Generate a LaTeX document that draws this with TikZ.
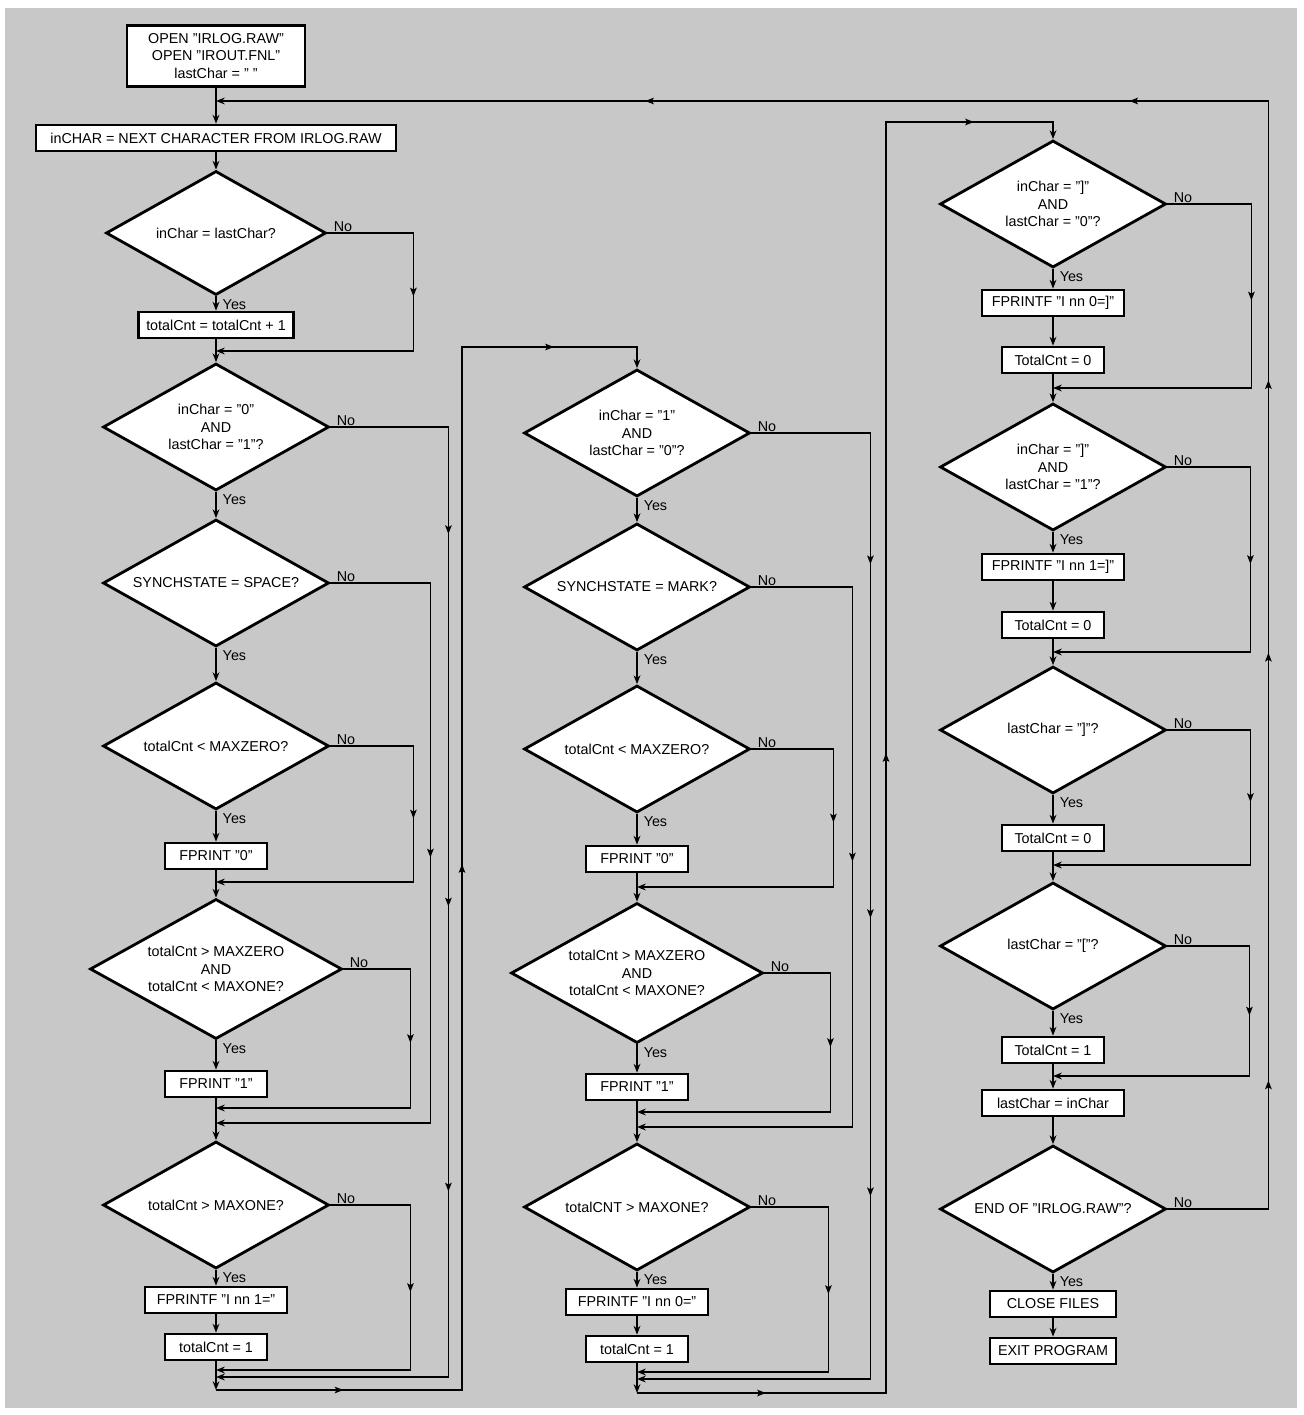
\documentclass[tikz,border=0pt]{standalone}
\usepackage{fontspec}
\setmainfont{Liberation Sans}
\usepackage{tikz}
\usetikzlibrary{shapes.geometric, arrows.meta, positioning}
\definecolor{paper}{RGB}{200,200,200}
\newcommand{\chartfont}{\fontsize{10.2}{12.4}\selectfont}

\begin{document}
\begin{tikzpicture}[x=0.25mm, y=-0.25mm,
    box/.style={draw, line width=0.7mm, fill=white, minimum width=25.5mm, minimum height=6.5mm, inner sep=1pt, font=\chartfont},
    widebox/.style={box, minimum width=35.5mm},
    decision/.style={diamond, aspect=1.8, draw, line width=0.7mm, fill=white, minimum width=56.5mm, minimum height=31.75mm, inner sep=0pt, align=center, font=\chartfont},
    line/.style={line width=0.35mm},
    flow/.style={line, -{Stealth[length=2.2mm, width=1.7mm]}},
    yes/.style={pos=0, anchor=north west, inner sep=0.6pt, xshift=1.3mm, yshift=-0.3mm, font=\chartfont},
    no/.style={pos=0, anchor=south west, inner sep=0.6pt, xshift=1.2mm, font=\chartfont},
    along/.style={pos=#1, sloped, allow upside down},
    tipmark/.pic={\fill[arrows=-] (1.1mm,0) -- (-1.1mm,0.85mm) -- (-0.6mm,0) -- (-1.1mm,-0.85mm) -- cycle;}
  ]
  \useasboundingbox (0,0) rectangle (1303,1415);
  \fill[white] (0,0) rectangle (1303,1415);
  \fill[paper] (5,8) rectangle (1297,1408);

  % first column
  \node[box, minimum width=44.5mm, minimum height=15.25mm, align=center] (start) at (216,56) {OPEN "IRLOG.RAW"\\OPEN "IROUT.FNL"\\lastChar = " "};
  \node[box, minimum width=90mm] (getch) at (216,138) {inCHAR = NEXT CHARACTER FROM IRLOG.RAW};
  \node[decision, minimum width=55mm, minimum height=31mm] (same) at (216,233) {inChar = lastChar?};
  \node[box, minimum width=38.75mm] (incr) at (216,325) {totalCnt = totalCnt + 1};
  \node[decision] (zoA) at (216,427) {inChar = "0"\\AND\\lastChar = "1"?};
  \node[decision] (spaceA) at (216,583) {SYNCHSTATE = SPACE?};
  \node[decision] (lzA) at (216,746) {totalCnt < MAXZERO?};
  \node[box] (pzA) at (216,856) {FPRINT "0"};
  \node[decision, minimum width=63mm, minimum height=35mm] (midA) at (216,969) {totalCnt > MAXZERO\\AND\\totalCnt < MAXONE?};
  \node[box] (poA) at (216,1084) {FPRINT "1"};
  \node[decision] (hiA) at (216,1205) {totalCnt > MAXONE?};
  \node[widebox] (pfA) at (216,1300) {FPRINTF "I nn 1="};
  \node[box] (oneA) at (216,1347) {totalCnt = 1};

  % second column
  \node[decision] (zoB) at (637,433) {inChar = "1"\\AND\\lastChar = "0"?};
  \node[decision] (markB) at (637,587) {SYNCHSTATE = MARK?};
  \node[decision] (lzB) at (637,749) {totalCnt < MAXZERO?};
  \node[box] (pzB) at (637,859) {FPRINT "0"};
  \node[decision, minimum width=63mm, minimum height=35mm] (midB) at (637,973) {totalCnt > MAXZERO\\AND\\totalCnt < MAXONE?};
  \node[box] (poB) at (637,1087) {FPRINT "1"};
  \node[decision] (hiB) at (637,1207) {totalCNT > MAXONE?};
  \node[widebox] (pfB) at (637,1302) {FPRINTF "I nn 0="};
  \node[box] (oneB) at (637,1349) {totalCnt = 1};

  % third column
  \node[decision] (brZ) at (1053,204) {inChar = "]"\\AND\\lastChar = "0"?};
  \node[widebox] (pbZ) at (1053,303) {FPRINTF "I nn 0=]"};
  \node[box] (tzZ) at (1053,360) {TotalCnt = 0};
  \node[decision] (brO) at (1053,467) {inChar = "]"\\AND\\lastChar = "1"?};
  \node[widebox] (pbO) at (1053,567) {FPRINTF "I nn 1=]"};
  \node[box] (tzO) at (1053,625) {TotalCnt = 0};
  \node[decision] (lastR) at (1053,730) {lastChar = "]"?};
  \node[box] (tzR) at (1053,838) {TotalCnt = 0};
  \node[decision] (lastL) at (1053,946) {lastChar = "["?};
  \node[box] (toL) at (1053,1050) {TotalCnt = 1};
  \node[widebox] (setl) at (1053,1103) {lastChar = inChar};
  \node[decision] (eof) at (1053,1209) {END OF "IRLOG.RAW"?};
  \node[box, minimum width=31.5mm] (close) at (1053,1304) {CLOSE FILES};
  \node[box, minimum width=31.5mm] (exit) at (1053,1351) {EXIT PROGRAM};

  % join points
  \coordinate (t1) at (216,101);
  \coordinate (m1) at (216,351);
  \coordinate (m2) at (216,882);
  \coordinate (m3a) at (216,1108);
  \coordinate (m3b) at (216,1123);
  \coordinate (m4a) at (216,1370);
  \coordinate (m4b) at (216,1377);
  \coordinate (b1) at (216,1390);
  \coordinate (t2) at (637,347);
  \coordinate (q2) at (637,887);
  \coordinate (q3a) at (637,1112);
  \coordinate (q3b) at (637,1127);
  \coordinate (q4a) at (637,1372);
  \coordinate (q4b) at (637,1379);
  \coordinate (b2) at (637,1393);
  \coordinate (t3) at (1053,122);
  \coordinate (k1) at (1053,388);
  \coordinate (k2) at (1053,652);
  \coordinate (k3) at (1053,865);
  \coordinate (k4) at (1053,1076);

  \draw[flow] (start) -- (getch);
  \draw[flow] (getch) -- (same);
  \draw[flow] (same) -- node[yes] (y1) {Yes} (incr);
  \draw[flow] (same.east) -- node[no] (n1) {No} ++(86,0) |- pic[along=.25]{tipmark} (m1);
  \draw[flow] (incr) -- (zoA);
  \draw[flow] (zoA) -- node[yes] (y2) {Yes} (spaceA);
  \draw[flow] (zoA.east) -- node[no] (n2) {No} ++(118,0) |- pic[along=.054]{tipmark} pic[along=.25]{tipmark} pic[along=.4]{tipmark} (m4b);
  \draw[flow] (spaceA) -- node[yes] (y3) {Yes} (lzA);
  \draw[flow] (spaceA.east) -- node[no] (n3) {No} ++(100,0) |- pic[along=.25]{tipmark} (m3b);
  \draw[flow] (lzA) -- node[yes] (y4) {Yes} (pzA);
  \draw[flow] (lzA.east) -- node[no] (n4) {No} ++(83,0) |- pic[along=.25]{tipmark} (m2);
  \draw[flow] (pzA) -- (midA);
  \draw[flow] (midA) -- node[yes] (y5) {Yes} (poA);
  \draw[flow] (midA.east) -- node[no] (n5) {No} ++(67,0) |- pic[along=.25]{tipmark} (m3a);
  \draw[flow] (poA) -- (hiA);
  \draw[flow] (hiA) -- node[yes] (y6) {Yes} (pfA);
  \draw[flow] (hiA.east) -- node[no] (n6) {No} ++(80,0) |- pic[along=.25]{tipmark} (m4a);
  \draw[flow] (pfA) -- (oneA);
  \draw[flow] (oneA) -- (b1);
  \draw[flow] (b1) -- pic[along=.5]{tipmark} ++(246,0) |- pic[along=.25]{tipmark} pic[along=.75]{tipmark} (t2) -- (zoB);

  \draw[flow] (zoB) -- node[yes] (y7) {Yes} (markB);
  \draw[flow] (zoB.east) -- node[no] (n7) {No} ++(119,0) |- pic[along=.067]{tipmark} pic[along=.254]{tipmark} pic[along=.401]{tipmark} (q4b);
  \draw[flow] (markB) -- node[yes] (y8) {Yes} (lzB);
  \draw[flow] (markB.east) -- node[no] (n8) {No} ++(101,0) |- pic[along=.25]{tipmark} (q3b);
  \draw[flow] (lzB) -- node[yes] (y9) {Yes} (pzB);
  \draw[flow] (lzB.east) -- node[no] (n9) {No} ++(82,0) |- pic[along=.25]{tipmark} (q2);
  \draw[flow] (pzB) -- (midB);
  \draw[flow] (midB) -- node[yes] (y10) {Yes} (poB);
  \draw[flow] (midB.east) -- node[no] (n10) {No} ++(66,0) |- pic[along=.25]{tipmark} (q3a);
  \draw[flow] (poB) -- (hiB);
  \draw[flow] (hiB) -- node[yes] (y11) {Yes} (pfB);
  \draw[flow] (hiB.east) -- node[no] (n11) {No} ++(77,0) |- pic[along=.25]{tipmark} (q4a);
  \draw[flow] (pfB) -- (oneB);
  \draw[flow] (oneB) -- (b2);
  \draw[flow] (b2) -- pic[along=.5]{tipmark} ++(249,0) |- pic[along=.25]{tipmark} pic[along=.75]{tipmark} (t3) -- (brZ);

  \draw[flow] (brZ) -- node[yes] (y12) {Yes} (pbZ);
  \draw[flow] (brZ.east) -- node[no] (n12) {No} ++(84,0) |- pic[along=.25]{tipmark} (k1);
  \draw[flow] (pbZ) -- (tzZ);
  \draw[flow] (tzZ) -- (brO);
  \draw[flow] (brO) -- node[yes] (y13) {Yes} (pbO);
  \draw[flow] (brO.east) -- node[no] (n13) {No} ++(83,0) |- pic[along=.25]{tipmark} (k2);
  \draw[flow] (pbO) -- (tzO);
  \draw[flow] (tzO) -- (lastR);
  \draw[flow] (lastR) -- node[yes] (y14) {Yes} (tzR);
  \draw[flow] (lastR.east) -- node[no] (n14) {No} ++(83,0) |- pic[along=.25]{tipmark} (k3);
  \draw[flow] (tzR) -- (lastL);
  \draw[flow] (lastL) -- node[yes] (y15) {Yes} (toL);
  \draw[flow] (lastL.east) -- node[no] (n15) {No} ++(82,0) |- pic[along=.25]{tipmark} (k4);
  \draw[flow] (toL) -- (setl);
  \draw[flow] (setl) -- (eof);
  \draw[flow] (eof) -- node[yes] (y16) {Yes} (close);
  \draw[flow] (close) -- (exit);
  \draw[flow] (eof.east) -- node[no] (n16) {No} ++(101,0) |- pic[along=.056]{tipmark} pic[along=.249]{tipmark} pic[along=.372]{tipmark} pic[along=.564]{tipmark} pic[along=.794]{tipmark} (t1);
\end{tikzpicture}
\end{document}
